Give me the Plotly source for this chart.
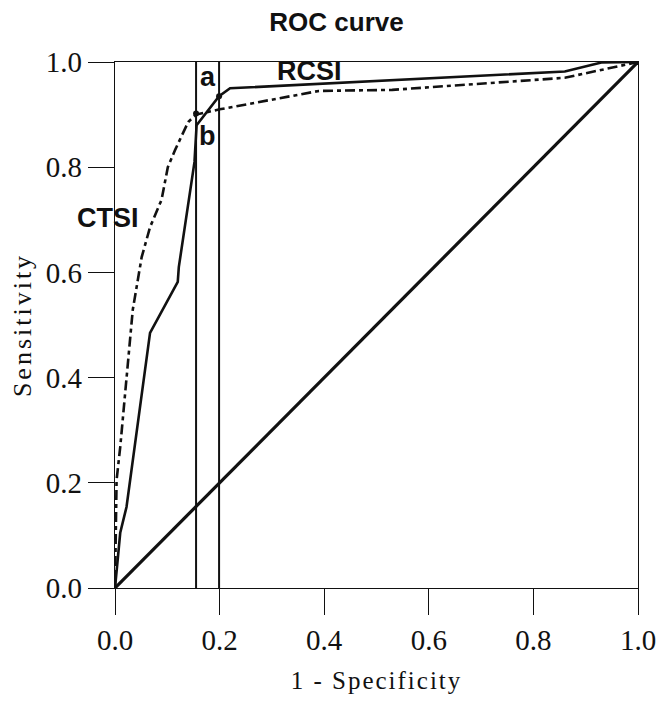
import plotly.graph_objects as go

# RCSI curve (solid)
rcsi_fpr = [0, 0.01, 0.022, 0.05, 0.067, 0.12, 0.122, 0.152, 0.156, 0.199, 0.22, 0.86, 0.93, 1.0]
rcsi_tpr = [0, 0.105, 0.154, 0.357, 0.485, 0.582, 0.61, 0.81, 0.88, 0.935, 0.95, 0.982, 0.999, 1.0]

# CTSI curve (dash-dot)
ctsi_fpr = [0, 0.003, 0.01, 0.019, 0.034, 0.051, 0.067, 0.089, 0.101, 0.115, 0.14, 0.155, 0.2, 0.39, 0.53, 0.86, 1.0]
ctsi_tpr = [0, 0.205, 0.268, 0.367, 0.529, 0.629, 0.686, 0.738, 0.8, 0.833, 0.886, 0.9, 0.91, 0.945, 0.947, 0.97, 1.0]

# reference line
ref_x = [0, 1]
ref_y = [0, 1]

# cut-off points
cutoff_x = [0.155, 0.199]
cutoff_y = [0.902, 0.935]

tick_vals = [0, 0.2, 0.4, 0.6, 0.8, 1.0]
tick_text = ["0.0", "0.2", "0.4", "0.6", "0.8", "1.0"]

BLACK = "#111111"
fig = go.Figure()

for cx in cutoff_x:
    fig.add_trace(go.Scatter(x=[cx, cx], y=[0, 1], mode="lines",
                             line=dict(color=BLACK, width=2), showlegend=False, hoverinfo="skip"))

fig.add_trace(go.Scatter(x=ref_x, y=ref_y, mode="lines",
                         line=dict(color=BLACK, width=3.2), showlegend=False))
fig.add_trace(go.Scatter(x=ctsi_fpr, y=ctsi_tpr, mode="lines", name="CTSI",
                         line=dict(color=BLACK, width=2.6, dash="10px,4px,4px,4px"), showlegend=False))
fig.add_trace(go.Scatter(x=rcsi_fpr, y=rcsi_tpr, mode="lines", name="RCSI",
                         line=dict(color=BLACK, width=2.6), showlegend=False))
fig.add_trace(go.Scatter(x=cutoff_x, y=cutoff_y, mode="markers",
                         marker=dict(color=BLACK, size=6), showlegend=False))

label_font = dict(family="Liberation Sans", size=27, color=BLACK)
fig.add_annotation(x=0.371, y=0.983, text="<b>RCSI</b>", showarrow=False, font=label_font)
fig.add_annotation(x=0.05, y=0.703, xanchor="right", text="<b>CTSI</b>", showarrow=False, font=label_font)
fig.add_annotation(x=0.178, y=0.972, text="<b>a</b>", showarrow=False, font=label_font)
fig.add_annotation(x=0.177, y=0.86, text="<b>b</b>", showarrow=False, font=label_font)

axis_common = dict(
    range=[0, 1], tickvals=tick_vals, ticktext=tick_text,
    ticks="outside", ticklen=26, tickwidth=1.3, tickcolor=BLACK,
    showline=True, linecolor=BLACK, linewidth=1.3, mirror=True,
    showgrid=False, zeroline=False, automargin=False,
    tickfont=dict(family="Liberation Serif", size=29, color=BLACK),
)

# the page body has an 8px default margin, so the figure is sized to fit inside it
fig.update_layout(
    width=657, height=686,
    margin=dict(l=107, r=27, t=54, b=106),
    paper_bgcolor="white", plot_bgcolor="white",
    title=dict(text="<b>ROC curve</b>", x=0.5, xanchor="center", y=1 - 14 / 686, yanchor="middle",
               font=dict(family="Liberation Sans", size=26, color=BLACK)),
    xaxis=dict(**axis_common,
               title=dict(text='<span style="letter-spacing:2px">1 - Specificity</span>',
                          font=dict(family="Liberation Serif", size=25, color=BLACK), standoff=20)),
    yaxis=dict(**axis_common,
               title=dict(text='<span style="letter-spacing:3px">Sensitivity</span>',
                          font=dict(family="Liberation Serif", size=26, color=BLACK), standoff=12)),
)

fig.write_html("out.html")
